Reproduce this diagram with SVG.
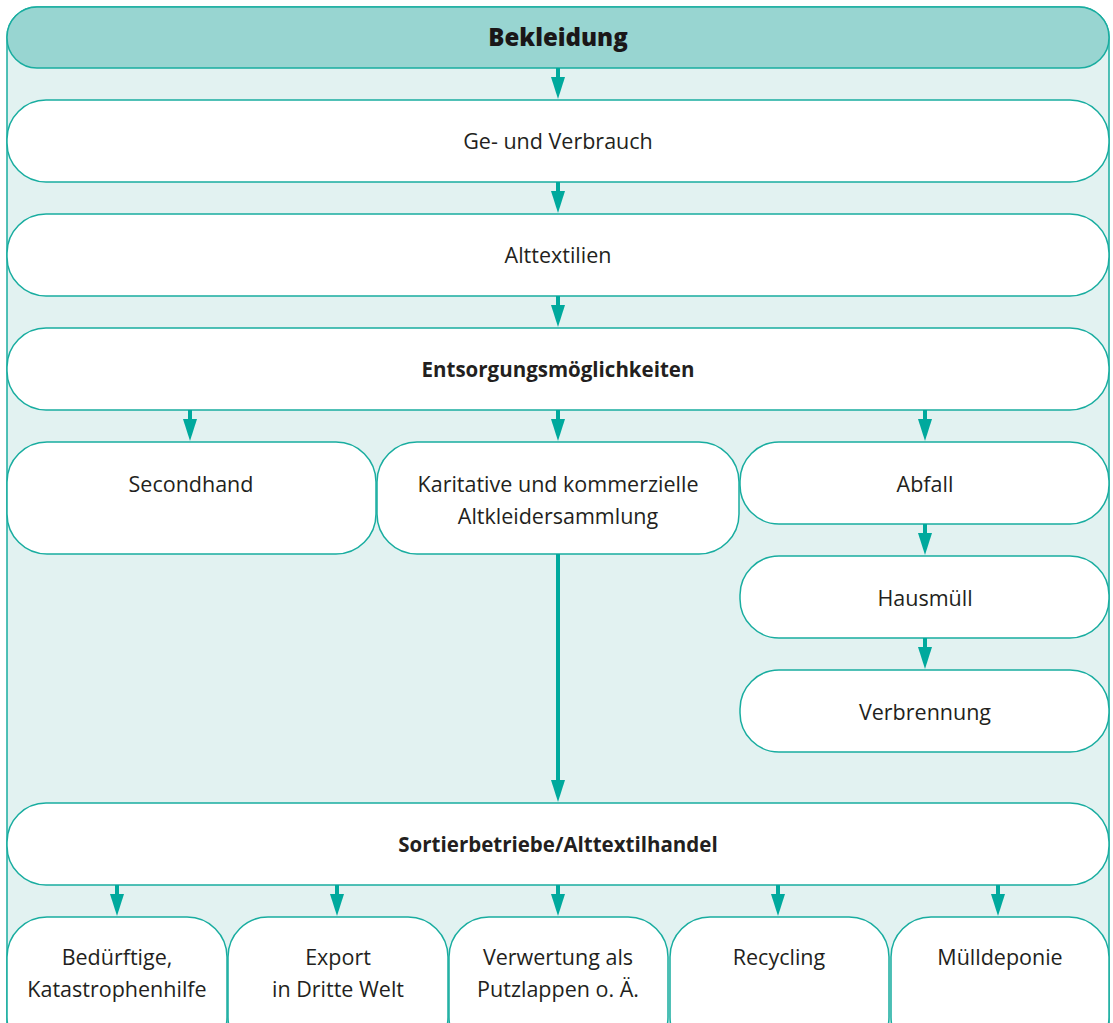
<svg xmlns="http://www.w3.org/2000/svg" width="1113" height="1023" viewBox="0 0 1113 1023">
<style>
.box{fill:#ffffff;stroke:#19ada0;stroke-width:1.5}
.t{font-family:"Open Sans","Noto Sans",sans-serif;font-size:21.5px;fill:#231f20;text-anchor:middle}
.b{font-weight:700;font-size:20.5px}
.h{font-family:"Open Sans","Noto Sans",sans-serif;font-weight:800;font-size:24px;fill:#1a1718;text-anchor:middle}
.c{stroke:#00a99d;stroke-width:4;fill:none;marker-end:url(#ah)}
</style>
<defs>
<marker id="ah" markerWidth="22" markerHeight="14" refX="12" refY="7" orient="auto" markerUnits="userSpaceOnUse" viewBox="0 0 22 14">
<path d="M0,0 L22,7 L0,14 Z" fill="#00a99d"/>
</marker>
</defs>
<g id="container">
<rect x="7" y="7" width="1102" height="1100" rx="30" fill="#e2f2f1" stroke="#19ada0" stroke-width="1.5"/>
</g>
<g id="n-bekleidung">
<rect x="7" y="7" width="1102" height="61" rx="30" fill="#98d5d1" stroke="#19ada0" stroke-width="1.5"/>
<text class="h" x="558" y="46">Bekleidung</text>
</g>
<g id="n-verbrauch"><rect class="box" x="7" y="100" width="1102" height="82" rx="39"/><text class="t" x="558" y="149">Ge- und Verbrauch</text></g>
<g id="n-alttextilien"><rect class="box" x="7" y="214" width="1102" height="82" rx="39"/><text class="t" x="558" y="263">Alttextilien</text></g>
<g id="n-entsorgung"><rect class="box" x="7" y="328" width="1102" height="82" rx="39"/><text class="t b" x="558" y="377">Entsorgungsmöglichkeiten</text></g>
<g id="n-secondhand"><rect class="box" x="7" y="442" width="369" height="112" rx="40"/><text class="t" x="191" y="492">Secondhand</text></g>
<g id="n-sammlung"><rect class="box" x="377" y="442" width="362" height="112" rx="40"/><text class="t" x="558" y="492">Karitative und kommerzielle</text><text class="t" x="558" y="524">Altkleidersammlung</text></g>
<g id="n-abfall"><rect class="box" x="740" y="442" width="369" height="82" rx="39"/><text class="t" x="925" y="492">Abfall</text></g>
<g id="n-hausmuell"><rect class="box" x="740" y="556" width="369" height="82" rx="39"/><text class="t" x="925" y="606">Hausmüll</text></g>
<g id="n-verbrennung"><rect class="box" x="740" y="670" width="369" height="82" rx="39"/><text class="t" x="925" y="720">Verbrennung</text></g>
<g id="n-sortier"><rect class="box" x="7" y="803" width="1102" height="82" rx="39"/><text class="t b" x="558" y="852">Sortierbetriebe/Alttextilhandel</text></g>
<g id="n-beduerftige"><rect class="box" x="7" y="917" width="220" height="140" rx="40"/><text class="t" x="117" y="965">Bedürftige,</text><text class="t" x="117" y="997">Katastrophenhilfe</text></g>
<g id="n-export"><rect class="box" x="228" y="917" width="220" height="140" rx="40"/><text class="t" x="338" y="965">Export</text><text class="t" x="338" y="997">in Dritte Welt</text></g>
<g id="n-putzlappen"><rect class="box" x="449" y="917" width="219" height="140" rx="40"/><text class="t" x="558" y="965">Verwertung als</text><text class="t" x="558" y="997">Putzlappen o. Ä.</text></g>
<g id="n-recycling"><rect class="box" x="670" y="917" width="219" height="140" rx="40"/><text class="t" x="779" y="965">Recycling</text></g>
<g id="n-muelldeponie"><rect class="box" x="891" y="917" width="218" height="140" rx="40"/><text class="t" x="1000" y="965">Mülldeponie</text></g>
<g id="connectors">
<line class="c" x1="558" y1="68" x2="558" y2="89"/>
<line class="c" x1="558" y1="182" x2="558" y2="203"/>
<line class="c" x1="558" y1="296" x2="558" y2="317"/>
<line class="c" x1="190" y1="410" x2="190" y2="431"/>
<line class="c" x1="558" y1="410" x2="558" y2="431"/>
<line class="c" x1="925" y1="410" x2="925" y2="431"/>
<line class="c" x1="925" y1="524" x2="925" y2="545"/>
<line class="c" x1="925" y1="638" x2="925" y2="659"/>
<line class="c" x1="558" y1="554" x2="558" y2="792"/>
<line class="c" x1="117" y1="885" x2="117" y2="906"/>
<line class="c" x1="337" y1="885" x2="337" y2="906"/>
<line class="c" x1="558" y1="885" x2="558" y2="906"/>
<line class="c" x1="778" y1="885" x2="778" y2="906"/>
<line class="c" x1="998" y1="885" x2="998" y2="906"/>
</g>
</svg>
